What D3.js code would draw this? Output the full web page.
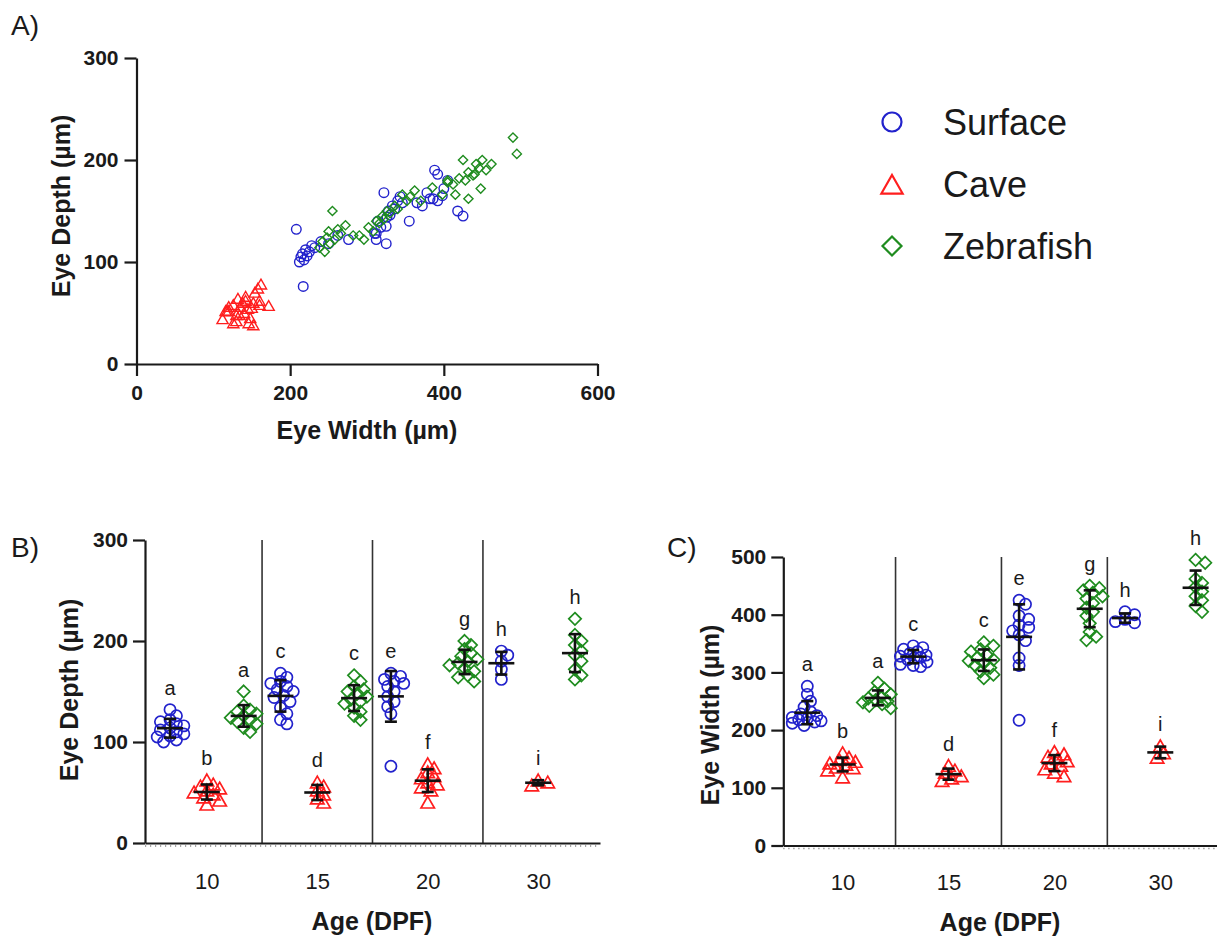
<!DOCTYPE html>
<html><head><meta charset="utf-8">
<script src="https://cdn.jsdelivr.net/npm/d3@7"></script>
<style>
body{margin:0;background:#fff}
svg{display:block}
text{font-family:"Liberation Sans",Arial,sans-serif;fill:#1a1a1a}
</style>
</head><body>
<svg id="chart" width="1217" height="945"></svg>
<script>
// ---------------- DATA (per fish: depth[i] pairs with width[i]) ----------------
const ages = ["10", "15", "20", "30"];
const species = ["Surface", "Cave", "Zebrafish"];

const surfaceDepth10 = [100,102,105,106,108,110,112,114,116,118,120,122,126,132];
const surfaceWidth10 = [212,218,214,222,216,225,220,232,228,250,240,276,262,208];
const caveDepth10    = [38,42,45,48,50,52,54,56,58,62];
const caveWidth10    = [152,130,148,134,140,118,145,135,160,142];
const zebraDepth10   = [110,114,118,120,122,124,126,128,130,132,136,150];
const zebraWidth10   = [245,238,252,242,258,248,282,266,250,262,272,255];

const surfaceDepth15 = [118,122,128,134,140,144,146,150,152,155,158,160,164,168];
const surfaceWidth15 = [325,312,310,318,314,326,330,328,336,333,346,340,343,322];
const caveDepth15    = [40,44,48,52,56,60];
const caveWidth15    = [126,112,130,116,120,138];
const zebraDepth15   = [122,126,130,134,138,140,142,145,148,150,152,155,160,166];
const zebraWidth15   = [296,290,308,302,316,312,322,320,330,326,340,336,352,346];

const surfaceDepth20 = [76,128,135,140,145,150,155,158,160,162,165,168];
const surfaceWidth20 = [217,312,325,355,425,418,372,365,392,382,398,378];
const caveDepth20    = [40,52,55,58,60,64,66,70,74,78];
const caveWidth20    = [146,120,150,126,138,132,142,154,158,162];
const zebraDepth20   = [160,164,166,170,173,176,178,180,182,185,188,192,196,200];
const zebraWidth20   = [370,356,398,362,385,412,405,428,420,438,432,446,442,450];

const surfaceDepth30 = [162,172,180,186,190];
const surfaceWidth30 = [386,400,405,392,388];
const caveDepth30    = [57,60,62];
const caveWidth30    = [172,152,160];
const zebraDepth30   = [162,166,172,180,186,190,196,200,206,222];
const zebraWidth30   = [432,415,448,405,440,455,462,425,495,490];

const depthLetters = ["a","b","a","c","d","c","e","f","g","h","i","h"];
const widthLetters = ["a","b","a","c","d","c","e","f","g","h","i","h"];

// ---------------- table built from the arrays ----------------
const groups = [
  {age:"10", sp:0, depth:surfaceDepth10, width:surfaceWidth10},
  {age:"10", sp:1, depth:caveDepth10,    width:caveWidth10},
  {age:"10", sp:2, depth:zebraDepth10,   width:zebraWidth10},
  {age:"15", sp:0, depth:surfaceDepth15, width:surfaceWidth15},
  {age:"15", sp:1, depth:caveDepth15,    width:caveWidth15},
  {age:"15", sp:2, depth:zebraDepth15,   width:zebraWidth15},
  {age:"20", sp:0, depth:surfaceDepth20, width:surfaceWidth20},
  {age:"20", sp:1, depth:caveDepth20,    width:caveWidth20},
  {age:"20", sp:2, depth:zebraDepth20,   width:zebraWidth20},
  {age:"30", sp:0, depth:surfaceDepth30, width:surfaceWidth30},
  {age:"30", sp:1, depth:caveDepth30,    width:caveWidth30},
  {age:"30", sp:2, depth:zebraDepth30,   width:zebraWidth30}
];

// ---------------- styles ----------------
const colors = ["#2222cc", "#ff1e1e", "#1f8c1f"];
const svg = d3.select("#chart");
const FONT = '"Liberation Sans",Arial,sans-serif';

function shapePath(sp, s) {
  if (sp === 0) { const p = d3.path(); p.moveTo(s, 0); p.arc(0, 0, s, 0, 2 * Math.PI); p.closePath(); return p.toString(); }
  if (sp === 1) return `M0,${-s*1.05}L${s*1.12},${s*0.9}L${-s*1.12},${s*0.9}Z`;
  return `M0,${-s}L${s},0L0,${s}L${-s},0Z`;
}

function styleAxis(g, sw) {
  g.select(".domain").attr("stroke", "#1a1a1a").attr("stroke-width", sw);
  g.selectAll(".tick line").attr("stroke", "#1a1a1a").attr("stroke-width", sw);
}

// ================= PANEL A =================
const xA = d3.scaleLinear().domain([0, 600]).range([136.5, 597.5]);
const yA = d3.scaleLinear().domain([0, 300]).range([364, 58]);

const gAx = svg.append("g").attr("transform", `translate(0,${yA(0)})`)
  .call(d3.axisBottom(xA).tickValues([0,200,400,600]).tickSize(12).tickSizeOuter(0).tickPadding(9));
styleAxis(gAx, 2.2);
gAx.selectAll(".tick text").attr("font-size", 21).attr("font-weight", "bold").attr("fill", "#1a1a1a").style("font-family", FONT);

const gAy = svg.append("g").attr("transform", `translate(${xA(0)},0)`)
  .call(d3.axisLeft(yA).tickValues([0,100,200,300]).tickSize(12).tickSizeOuter(0).tickPadding(6));
styleAxis(gAy, 2.2);
gAy.selectAll(".tick text").attr("font-size", 21).attr("font-weight", "bold").attr("fill", "#1a1a1a").style("font-family", FONT);

svg.append("text").attr("x", 367).attr("y", 439).attr("text-anchor", "middle")
  .attr("font-size", 25).attr("font-weight", "bold").text("Eye Width (\u00B5m)");
svg.append("text").attr("transform", "translate(70,206) rotate(-90)").attr("text-anchor", "middle")
  .attr("font-size", 25).attr("font-weight", "bold").text("Eye Depth (\u00B5m)");
svg.append("text").attr("x", 11).attr("y", 35).attr("font-size", 28).text("A)");

const gAp = svg.append("g");
[0,1,2].forEach(sp => {
  groups.filter(g => g.sp === sp).forEach(g => {
    g.depth.forEach((d, i) => {
      gAp.append("path").attr("d", shapePath(sp, sp === 0 ? 4.8 : (sp === 1 ? 5 : 4.6)))
        .attr("transform", `translate(${xA(g.width[i])},${yA(d)})`)
        .attr("fill", "none").attr("stroke", colors[sp]).attr("stroke-width", 1.4);
    });
  });
});

// legend
const legY = [122, 184, 246];
species.forEach((name, sp) => {
  svg.append("path").attr("d", shapePath(sp, 9.5))
    .attr("transform", `translate(892,${legY[sp] + (sp === 1 ? 1 : 0)})`)
    .attr("fill", "none").attr("stroke", colors[sp]).attr("stroke-width", 2.2);
  svg.append("text").attr("x", 943).attr("y", legY[sp] + 13).attr("font-size", 36).text(name);
});

// ================= PANELS B & C =================
function swarm(values, y, cx, minD, step, maxOff) {
  const pts = values.map(v => ({v, py: y(v)})).sort((a, b) => a.py - b.py);
  const placed = [];
  for (const p of pts) {
    let off = null;
    for (let n = 0; n < 60; n++) {
      const o = n === 0 ? 0 : (n % 2 ? 1 : -1) * Math.ceil(n / 2) * step;
      if (Math.abs(o) > maxOff) break;
      if (placed.every(q => Math.hypot(q.px - (cx + o), q.py - p.py) >= minD)) { off = o; break; }
    }
    if (off === null) {
      let best = 0, bestD = -1;
      for (let o = -maxOff; o <= maxOff; o += step) {
        const dmin = d3.min(placed, q => Math.hypot(q.px - (cx + o), q.py - p.py));
        if (dmin > bestD) { bestD = dmin; best = o; }
      }
      off = best;
    }
    p.px = cx + off;
    placed.push(p);
  }
  return placed;
}

function dotPanel(cfg) {
  const x = d3.scaleLinear().domain([-0.68, 11.68]).range(cfg.xRange);
  const y = d3.scaleLinear().domain([0, cfg.yMax]).range(cfg.yRange);
  const g = svg.append("g");

  [2.5, 5.5, 8.5].forEach(v => {
    g.append("line").attr("x1", x(v)).attr("x2", x(v)).attr("y1", y(0)).attr("y2", y(cfg.yMax))
      .attr("stroke", "#333").attr("stroke-width", 1.6);
  });

  g.append("line").attr("x1", x(-0.68)).attr("x2", x(11.68)).attr("y1", y(0) + 3).attr("y2", y(0) + 3)
    .attr("stroke", "#888").attr("stroke-width", 1.5).attr("stroke-dasharray", "1.2,3.8");

  const gx = g.append("g").attr("transform", `translate(0,${y(0)})`)
    .call(d3.axisBottom(x).tickValues([1,4,7,10]).tickFormat((d, i) => ages[i]).tickSize(0).tickSizeOuter(0).tickPadding(cfg.xPad));
  styleAxis(gx, 2.2);
  gx.selectAll(".tick text").attr("font-size", 22).attr("fill", "#1a1a1a").style("font-family", FONT);

  const gy = g.append("g").attr("transform", `translate(${x(-0.68)},0)`)
    .call(d3.axisLeft(y).tickValues(cfg.yTicks).tickSize(12).tickSizeOuter(0).tickPadding(5));
  styleAxis(gy, 2.2);
  gy.selectAll(".tick text").attr("font-size", 21).attr("font-weight", "bold").attr("fill", "#1a1a1a").style("font-family", FONT);

  groups.forEach((grp, i) => {
    const vals = grp[cfg.key];
    const cx = x(i);
    const pts = swarm(vals, y, cx, 7.5, 3.2, 15);
    pts.forEach(p => {
      g.append("path").attr("d", shapePath(grp.sp, grp.sp === 0 ? 5.6 : (grp.sp === 1 ? 6 : 6.2)))
        .attr("transform", `translate(${p.px},${p.py})`)
        .attr("fill", "none").attr("stroke", colors[grp.sp]).attr("stroke-width", 1.7);
    });
    const m = d3.mean(vals), sd = d3.deviation(vals);
    const eb = g.append("g").attr("stroke", "#111").attr("stroke-width", 2.6);
    eb.append("line").attr("x1", cx).attr("x2", cx).attr("y1", y(m - sd)).attr("y2", y(m + sd));
    eb.append("line").attr("x1", cx - 6).attr("x2", cx + 6).attr("y1", y(m - sd)).attr("y2", y(m - sd));
    eb.append("line").attr("x1", cx - 6).attr("x2", cx + 6).attr("y1", y(m + sd)).attr("y2", y(m + sd));
    eb.append("line").attr("x1", cx - 13).attr("x2", cx + 13).attr("y1", y(m)).attr("y2", y(m));
    g.append("text").attr("x", cx).attr("y", y(d3.max(vals)) - 15).attr("text-anchor", "middle")
      .attr("font-size", 20).text(cfg.letters[i]);
  });

  svg.append("text").attr("x", cfg.xTitle[0]).attr("y", cfg.xTitle[1]).attr("text-anchor", "middle")
    .attr("font-size", 25).attr("font-weight", "bold").text("Age (DPF)");
  svg.append("text").attr("transform", `translate(${cfg.yTitle[0]},${cfg.yTitle[1]}) rotate(-90)`)
    .attr("text-anchor", "middle").attr("font-size", 25).attr("font-weight", "bold").text(cfg.yLabel);
  svg.append("text").attr("x", cfg.panel[0]).attr("y", cfg.panel[1]).attr("font-size", 28).text(cfg.panelLabel);
}

dotPanel({key: "depth", yMax: 300, yTicks: [0,100,200,300], xRange: [145, 600], yRange: [843, 540],
  xPad: 30, letters: depthLetters, xTitle: [372, 930], yTitle: [78, 690], yLabel: "Eye Depth (\u00B5m)",
  panel: [11, 557], panelLabel: "B)"});
dotPanel({key: "width", yMax: 500, yTicks: [0,100,200,300,400,500], xRange: [783.3, 1219.6], yRange: [845.5, 557],
  xPad: 29, letters: widthLetters, xTitle: [1000, 931], yTitle: [719, 715], yLabel: "Eye Width (\u00B5m)",
  panel: [667, 557], panelLabel: "C)"});
</script>
</body></html>
